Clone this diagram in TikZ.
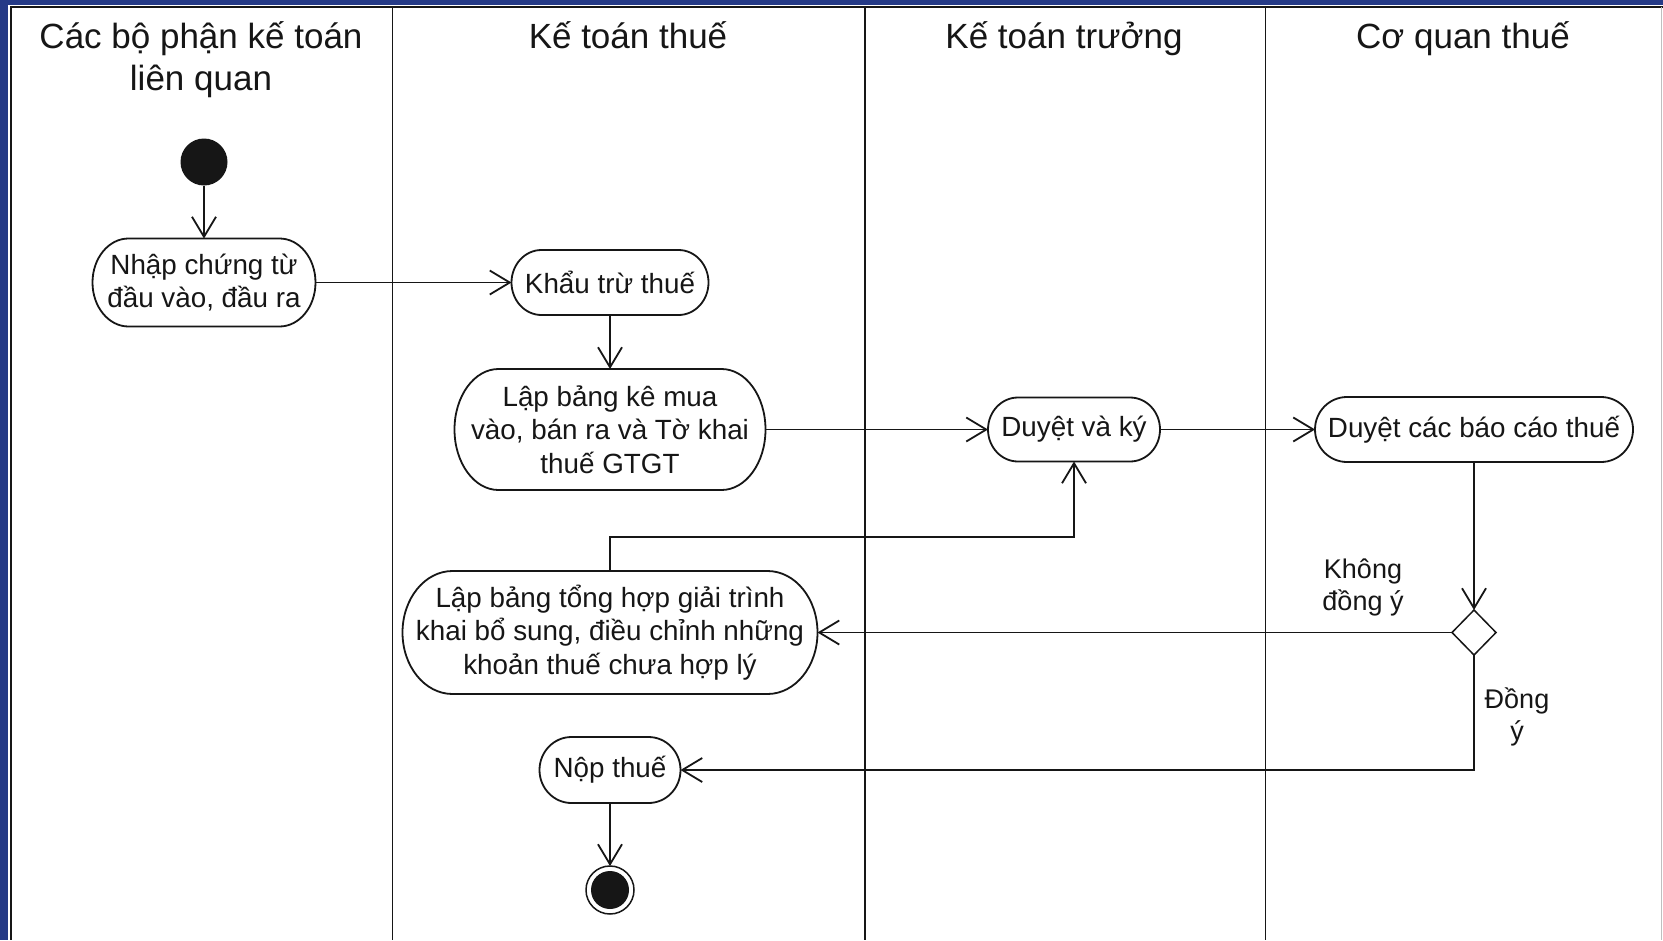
\documentclass[tikz,border=0pt]{standalone}
\usepackage{fontspec}
\setmainfont{Liberation Sans}
\usetikzlibrary{arrows.meta,shapes.geometric}
\definecolor{frameblue}{RGB}{37,58,135}
\definecolor{ink}{RGB}{22,22,22}
\tikzset{
  lw/.style={line width=1.8pt, draw=ink},
  act/.style={inner sep=0pt, outer sep=0pt, align=center, text=ink, font=\fontsize{27.8}{33.5}\selectfont},
  lanehead/.style={font=\fontsize{35}{42}\selectfont, text=ink, align=center, anchor=base},
  flow/.style={lw, -{Straight Barb[length=20pt,width=24pt]}},
  lbl/.style={font=\fontsize{27}{32}\selectfont, text=ink, align=center, anchor=base},
  lanediv/.style={line width=1.8pt, draw=ink},
}
\newcommand{\stad}[3]{\draw[lw] ([xshift=#2pt]#1.north west) -- ([xshift=-#2pt]#1.north east) arc[start angle=90,end angle=-90,x radius=#2pt,y radius=#3pt] -- ([xshift=#2pt]#1.south west) arc[start angle=270,end angle=90,x radius=#2pt,y radius=#3pt] -- cycle;}
\begin{document}
\begin{tikzpicture}[x=1pt,y=1pt]
\useasboundingbox (0,0) rectangle (1663,-940);
\fill[white] (0,0) rectangle (1663,-940);
% frame
\fill[frameblue] (0,0) rectangle (1663,-4.5);
\fill[frameblue] (0,0) rectangle (8,-940);
\draw[line width=2pt, ink] (10,-6.5) -- (1663,-6.5);
\draw[line width=2pt, ink] (10.5,-6.5) -- (10.5,-940);
\draw[line width=1pt, gray!50] (1661.5,-6.5) -- (1661.5,-940);
% lane dividers
\draw[lanediv] (392.5,-6.5) -- (392.5,-940);
\draw[lanediv] (865,-6.5) -- (865,-940);
\draw[lanediv] (1265.5,-6.5) -- (1265.5,-940);
% headers (base anchor = baseline of last line)
\node[lanehead] (h1) at (201,-90) {Các bộ phận kế toán\\liên quan};
\node[lanehead] (h2) at (628,-48) {Kế toán thuế};
\node[lanehead] (h3) at (1064,-48) {Kế toán trưởng};
\node[lanehead] (h4) at (1463,-48) {Cơ quan thuế};
% nodes
\node[fill=ink, circle, minimum size=47pt, inner sep=0pt, outer sep=0pt] (start) at (204,-162) {};
\node[act, minimum width=223pt, minimum height=88pt] (n1) at (204,-282.5) {Nhập chứng từ\\đầu vào, đầu ra};
\stad{n1}{36}{44}
\node[act, minimum width=197pt, minimum height=65pt] (n2) at (610,-282.5) {Khẩu trừ thuế};
\stad{n2}{30}{32.5}
\node[act, minimum width=311pt, minimum height=121pt] (n3) at (610,-429.5) {Lập bảng kê mua\\vào, bán ra và Tờ khai\\thuế GTGT};
\stad{n3}{44}{60.5}
\node[act, minimum width=172pt, minimum height=64pt] (n4) at (1074,-429.5) {Duyệt và ký};
\stad{n4}{30}{32}
\node[act, minimum width=318pt, minimum height=65pt] (n5) at (1474,-429.5) {Duyệt các báo cáo thuế};
\stad{n5}{32}{32.5}
\node[diamond, draw=ink, line width=1.5pt, minimum width=44pt, minimum height=45pt, inner sep=0pt, outer sep=0pt] (d) at (1474,-632.5) {};
\node[act, minimum width=415pt, minimum height=123pt] (n6) at (610,-632.5) {Lập bảng tổng hợp giải trình\\khai bổ sung, điều chỉnh những\\khoản thuế chưa hợp lý};
\stad{n6}{50}{61.5}
\node[act, minimum width=141pt, minimum height=66pt] (n7) at (610,-770) {Nộp thuế};
\stad{n7}{32}{33}
\node[draw=ink, line width=1.5pt, circle, minimum size=48pt, inner sep=0pt, outer sep=0pt] (end) at (610,-890) {};
\fill[ink] (end.center) circle (19);
% labels
\node[lbl] (l1) at (1363,-610) {Không\\đồng ý};
\node[lbl] (l2) at (1517,-740) {Đồng\\ý};
% connectors
\draw[flow] (start) -- (n1);
\draw[flow] (n1.east) -- (n2.west);
\draw[flow] (n2) -- (n3);
\draw[flow] (n3.east) -- (n4.west);
\draw[flow] (n4.east) -- (n5.west);
\draw[flow] (n5.south) -- (d.north);
\draw[flow] (d.west) -- (n6.east);
\draw[flow] (n6.north) -- ++(0,34) -| (n4.south);
\draw[flow] (d.south) |- (n7.east);
\draw[flow] (n7) -- (end);
\end{tikzpicture}
\end{document}
